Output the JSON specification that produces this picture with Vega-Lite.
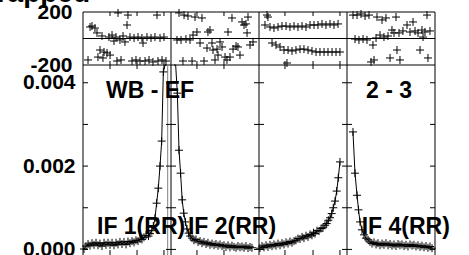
{
"$schema":"https://vega.github.io/schema/vega-lite/v6.json",
"width":352,"height":243,
"autosize":{"type":"none"},
"padding":{"left":83,"top":12,"right":34,"bottom":0},
"background":"white",
"config":{"view":{"stroke":null},"font":"Liberation Sans"},
"datasets":{
"div":[{"d":0},{"d":1},{"d":2},{"d":3},{"d":4}],
"hl":[{"h":200},{"h":0},{"h":-200}],
"xt":[{"t":0.307},{"t":0.614},{"t":0.92},{"t":1.295},{"t":1.602},{"t":2.295},{"t":2.614},{"t":2.92}],
"yl":[{"lv":0},{"lv":0.001},{"lv":0.002},{"lv":0.003},{"lv":0.004}],
"amp":[
{"i":1,"x":0.011,"a":0.00001},{"i":1,"x":0.034,"a":0.00008},{"i":1,"x":0.057,"a":0.00013},{"i":1,"x":0.080,"a":0.00009},{"i":1,"x":0.102,"a":0.00015},{"i":1,"x":0.125,"a":0.00011},{"i":1,"x":0.148,"a":0.00016},{"i":1,"x":0.170,"a":0.00010},{"i":1,"x":0.193,"a":0.00014},{"i":1,"x":0.216,"a":0.00008},{"i":1,"x":0.239,"a":0.00016},{"i":1,"x":0.261,"a":0.00011},{"i":1,"x":0.284,"a":0.00016},{"i":1,"x":0.307,"a":0.00011},{"i":1,"x":0.330,"a":0.00016},{"i":1,"x":0.352,"a":0.00010},{"i":1,"x":0.375,"a":0.00016},{"i":1,"x":0.398,"a":0.00012},{"i":1,"x":0.420,"a":0.00018},{"i":1,"x":0.443,"a":0.00013},{"i":1,"x":0.466,"a":0.00018},{"i":1,"x":0.489,"a":0.00012},{"i":1,"x":0.511,"a":0.00019},{"i":1,"x":0.534,"a":0.00015},{"i":1,"x":0.557,"a":0.00020},{"i":1,"x":0.580,"a":0.00017},{"i":1,"x":0.602,"a":0.00022},{"i":1,"x":0.625,"a":0.00020},{"i":1,"x":0.648,"a":0.00025},{"i":1,"x":0.670,"a":0.00024},{"i":1,"x":0.693,"a":0.00029},{"i":1,"x":0.716,"a":0.00034},{"i":1,"x":0.744,"a":0.00032},{"i":1,"x":0.761,"a":0.00038},{"i":1,"x":0.781,"a":0.00045},{"i":1,"x":0.799,"a":0.00056},{"i":1,"x":0.818,"a":0.00075},{"i":1,"x":0.837,"a":0.00111},{"i":1,"x":0.856,"a":0.00147},{"i":1,"x":0.875,"a":0.00200},{"i":1,"x":0.894,"a":0.00260},{"i":1,"x":0.913,"a":0.00426},{"i":1,"x":0.932,"a":0.0075},{"i":1,"x":0.951,"a":0.012},
{"i":2,"x":1.034,"a":0.009},{"i":2,"x":1.053,"a":0.0055},{"i":2,"x":1.072,"a":0.00375},{"i":2,"x":1.091,"a":0.00238},{"i":2,"x":1.109,"a":0.00183},{"i":2,"x":1.127,"a":0.00119},{"i":2,"x":1.145,"a":0.00087},{"i":2,"x":1.164,"a":0.00066},{"i":2,"x":1.182,"a":0.00049},{"i":2,"x":1.200,"a":0.00039},{"i":2,"x":1.218,"a":0.00032},{"i":2,"x":1.239,"a":0.00027},{"i":2,"x":1.261,"a":0.00022},{"i":2,"x":1.284,"a":0.00024},{"i":2,"x":1.307,"a":0.00018},{"i":2,"x":1.330,"a":0.00020},{"i":2,"x":1.352,"a":0.00015},{"i":2,"x":1.375,"a":0.00018},{"i":2,"x":1.398,"a":0.00013},{"i":2,"x":1.420,"a":0.00016},{"i":2,"x":1.443,"a":0.00011},{"i":2,"x":1.466,"a":0.00014},{"i":2,"x":1.489,"a":0.00010},{"i":2,"x":1.511,"a":0.00013},{"i":2,"x":1.534,"a":0.00009},{"i":2,"x":1.557,"a":0.00012},{"i":2,"x":1.580,"a":0.00008},{"i":2,"x":1.602,"a":0.00010},{"i":2,"x":1.625,"a":0.00006},{"i":2,"x":1.648,"a":0.00010},{"i":2,"x":1.670,"a":0.00005},{"i":2,"x":1.693,"a":0.00009},{"i":2,"x":1.716,"a":0.00006},{"i":2,"x":1.739,"a":0.00004},{"i":2,"x":1.761,"a":0.00008},{"i":2,"x":1.784,"a":0.00005},{"i":2,"x":1.807,"a":0.00007},{"i":2,"x":1.830,"a":0.00004},{"i":2,"x":1.852,"a":0.00008},{"i":2,"x":1.875,"a":0.00003},{"i":2,"x":1.898,"a":0.00006},{"i":2,"x":1.920,"a":0.00004},
{"i":3,"x":2.011,"a":0.00003},{"i":3,"x":2.034,"a":0.00008},{"i":3,"x":2.057,"a":0.00005},{"i":3,"x":2.080,"a":0.00010},{"i":3,"x":2.102,"a":0.00006},{"i":3,"x":2.125,"a":0.00011},{"i":3,"x":2.148,"a":0.00008},{"i":3,"x":2.170,"a":0.00012},{"i":3,"x":2.193,"a":0.00009},{"i":3,"x":2.216,"a":0.00014},{"i":3,"x":2.239,"a":0.00010},{"i":3,"x":2.261,"a":0.00015},{"i":3,"x":2.284,"a":0.00012},{"i":3,"x":2.307,"a":0.00017},{"i":3,"x":2.330,"a":0.00014},{"i":3,"x":2.352,"a":0.00019},{"i":3,"x":2.375,"a":0.00016},{"i":3,"x":2.398,"a":0.00020},{"i":3,"x":2.420,"a":0.00022},{"i":3,"x":2.443,"a":0.00026},{"i":3,"x":2.466,"a":0.00025},{"i":3,"x":2.489,"a":0.00030},{"i":3,"x":2.511,"a":0.00027},{"i":3,"x":2.534,"a":0.00033},{"i":3,"x":2.557,"a":0.00030},{"i":3,"x":2.580,"a":0.00036},{"i":3,"x":2.602,"a":0.00034},{"i":3,"x":2.619,"a":0.00040},{"i":3,"x":2.636,"a":0.00038},{"i":3,"x":2.659,"a":0.00045},{"i":3,"x":2.682,"a":0.00044},{"i":3,"x":2.705,"a":0.00050},{"i":3,"x":2.727,"a":0.00052},{"i":3,"x":2.750,"a":0.00058},{"i":3,"x":2.769,"a":0.00062},{"i":3,"x":2.788,"a":0.00070},{"i":3,"x":2.807,"a":0.00076},{"i":3,"x":2.826,"a":0.00086},{"i":3,"x":2.844,"a":0.00100},{"i":3,"x":2.864,"a":0.00116},{"i":3,"x":2.883,"a":0.00140},{"i":3,"x":2.901,"a":0.00172},{"i":3,"x":2.920,"a":0.00210},
{"i":4,"x":3.068,"a":0.00282},{"i":4,"x":3.091,"a":0.00183},{"i":4,"x":3.114,"a":0.00130},{"i":4,"x":3.131,"a":0.00095},{"i":4,"x":3.148,"a":0.00066},{"i":4,"x":3.170,"a":0.00047},{"i":4,"x":3.193,"a":0.00035},{"i":4,"x":3.216,"a":0.00027},{"i":4,"x":3.239,"a":0.00023},{"i":4,"x":3.261,"a":0.00018},{"i":4,"x":3.284,"a":0.00014},{"i":4,"x":3.307,"a":0.00017},{"i":4,"x":3.330,"a":0.00012},{"i":4,"x":3.352,"a":0.00015},{"i":4,"x":3.375,"a":0.00010},{"i":4,"x":3.398,"a":0.00014},{"i":4,"x":3.420,"a":0.00011},{"i":4,"x":3.443,"a":0.00015},{"i":4,"x":3.466,"a":0.00010},{"i":4,"x":3.489,"a":0.00013},{"i":4,"x":3.511,"a":0.00009},{"i":4,"x":3.534,"a":0.00012},{"i":4,"x":3.557,"a":0.00008},{"i":4,"x":3.580,"a":0.00013},{"i":4,"x":3.602,"a":0.00010},{"i":4,"x":3.625,"a":0.00012},{"i":4,"x":3.648,"a":0.00008},{"i":4,"x":3.670,"a":0.00011},{"i":4,"x":3.693,"a":0.00007},{"i":4,"x":3.716,"a":0.00012},{"i":4,"x":3.739,"a":0.00009},{"i":4,"x":3.761,"a":0.00011},{"i":4,"x":3.784,"a":0.00007},{"i":4,"x":3.807,"a":0.00010},{"i":4,"x":3.830,"a":0.00006},{"i":4,"x":3.852,"a":0.00009},{"i":4,"x":3.875,"a":0.00005},{"i":4,"x":3.898,"a":0.00008},{"i":4,"x":3.920,"a":0.00004},{"i":4,"x":3.943,"a":0.00007},{"i":4,"x":3.966,"a":0.00003}
],
"ph":[
{"x":0.057,"p":-162},{"x":0.080,"p":87},{"x":0.102,"p":94},{"x":0.136,"p":79},{"x":0.159,"p":42},{"x":0.170,"p":-140},{"x":0.193,"p":-87},{"x":0.216,"p":19},{"x":0.227,"p":-147},{"x":0.239,"p":-102},{"x":0.273,"p":-109},{"x":0.295,"p":11},{"x":0.307,"p":-125},{"x":0.330,"p":26},{"x":0.352,"p":-19},{"x":0.375,"p":11},{"x":0.386,"p":-170},{"x":0.398,"p":193},{"x":0.420,"p":-11},{"x":0.432,"p":-162},{"x":0.455,"p":19},{"x":0.477,"p":-26},{"x":0.500,"p":102},{"x":0.511,"p":177},{"x":0.534,"p":11},{"x":0.557,"p":-170},{"x":0.580,"p":4},{"x":0.602,"p":-162},{"x":0.625,"p":11},{"x":0.648,"p":-170},{"x":0.670,"p":4},{"x":0.682,"p":-34},{"x":0.705,"p":-170},{"x":0.727,"p":11},{"x":0.750,"p":-162},{"x":0.773,"p":4},{"x":0.795,"p":-177},{"x":0.818,"p":11},{"x":0.841,"p":177},{"x":0.852,"p":-170},{"x":0.875,"p":4},{"x":0.898,"p":-162},{"x":0.920,"p":11},{"x":0.943,"p":-170},
{"x":1.068,"p":-11},{"x":1.091,"p":193},{"x":1.114,"p":-11},{"x":1.136,"p":-170},{"x":1.148,"p":177},{"x":1.170,"p":-4},{"x":1.193,"p":170},{"x":1.216,"p":-11},{"x":1.239,"p":-170},{"x":1.250,"p":26},{"x":1.273,"p":162},{"x":1.295,"p":49},{"x":1.330,"p":-34},{"x":1.352,"p":155},{"x":1.375,"p":-170},{"x":1.409,"p":-72},{"x":1.420,"p":49},{"x":1.443,"p":64},{"x":1.466,"p":-34},{"x":1.477,"p":-87},{"x":1.500,"p":-162},{"x":1.523,"p":-80},{"x":1.534,"p":-125},{"x":1.557,"p":-26},{"x":1.580,"p":-64},{"x":1.614,"p":-140},{"x":1.636,"p":-162},{"x":1.648,"p":49},{"x":1.670,"p":-140},{"x":1.693,"p":155},{"x":1.705,"p":-80},{"x":1.739,"p":-57},{"x":1.761,"p":-64},{"x":1.784,"p":-125},{"x":1.807,"p":125},{"x":1.830,"p":102},{"x":1.852,"p":110},{"x":1.864,"p":42},{"x":1.875,"p":162},{"x":1.898,"p":-49},{"x":1.932,"p":-26},
{"x":2.068,"p":102},{"x":2.091,"p":177},{"x":2.102,"p":162},{"x":2.125,"p":87},{"x":2.148,"p":-34},{"x":2.170,"p":79},{"x":2.193,"p":-49},{"x":2.216,"p":87},{"x":2.239,"p":-64},{"x":2.261,"p":94},{"x":2.284,"p":-87},{"x":2.307,"p":94},{"x":2.318,"p":-185},{"x":2.330,"p":-87},{"x":2.352,"p":87},{"x":2.375,"p":-94},{"x":2.398,"p":94},{"x":2.420,"p":-87},{"x":2.443,"p":87},{"x":2.466,"p":-80},{"x":2.489,"p":94},{"x":2.511,"p":-80},{"x":2.534,"p":87},{"x":2.557,"p":-87},{"x":2.580,"p":102},{"x":2.602,"p":-94},{"x":2.625,"p":102},{"x":2.648,"p":-102},{"x":2.670,"p":102},{"x":2.693,"p":-102},{"x":2.716,"p":110},{"x":2.739,"p":-102},{"x":2.761,"p":102},{"x":2.784,"p":-102},{"x":2.807,"p":110},{"x":2.830,"p":-102},{"x":2.852,"p":102},{"x":2.875,"p":-102},{"x":2.898,"p":110},{"x":2.920,"p":-102},
{"x":3.068,"p":177},{"x":3.091,"p":-4},{"x":3.114,"p":177},{"x":3.136,"p":-11},{"x":3.159,"p":185},{"x":3.182,"p":-4},{"x":3.205,"p":170},{"x":3.227,"p":-11},{"x":3.250,"p":177},{"x":3.273,"p":-177},{"x":3.295,"p":-49},{"x":3.307,"p":-162},{"x":3.330,"p":4},{"x":3.341,"p":162},{"x":3.375,"p":26},{"x":3.398,"p":140},{"x":3.420,"p":11},{"x":3.443,"p":155},{"x":3.466,"p":19},{"x":3.489,"p":-147},{"x":3.511,"p":64},{"x":3.534,"p":42},{"x":3.557,"p":162},{"x":3.568,"p":-87},{"x":3.591,"p":42},{"x":3.602,"p":-162},{"x":3.636,"p":57},{"x":3.682,"p":102},{"x":3.716,"p":49},{"x":3.750,"p":125},{"x":3.773,"p":57},{"x":3.807,"p":42},{"x":3.830,"p":-87},{"x":3.852,"p":64},{"x":3.864,"p":11},{"x":3.886,"p":49},{"x":3.909,"p":177},{"x":3.920,"p":-147},{"x":3.943,"p":57}
]
},
"layer":[
{"layer":[
 {"data":{"name":"div"},"mark":{"type":"rule","color":"black","strokeWidth":1},
  "encoding":{"x":{"field":"d","type":"quantitative","scale":{"domain":[0,4],"nice":false,"zero":false},"axis":null}}},
 {"data":{"name":"hl"},"mark":{"type":"rule","color":"black","strokeWidth":1},
  "encoding":{"y":{"field":"h","type":"quantitative","title":null,"scale":{"domain":[-200,200],"range":[53,0],"nice":false,"zero":false},"axis":{"orient":"left","values":[-200,200],"labelExpr":"replace(datum.label, '\u2212', '-')","ticks":false,"domain":false,"grid":false,"labelFont":"Liberation Sans","labelFontWeight":"bold","labelFontSize":21,"labelColor":"black","labelPadding":11,"labelOverlap":false,"labelBound":false}}}},
 {"data":{"name":"xt"},"mark":{"type":"tick","orient":"vertical","size":8,"thickness":1,"color":"black","opacity":1,"clip":true},
  "encoding":{"x":{"field":"t","type":"quantitative","scale":{"domain":[0,4],"nice":false,"zero":false},"axis":null},"y":{"datum":200,"type":"quantitative","title":null}}},
 {"data":{"name":"xt"},"mark":{"type":"tick","orient":"vertical","size":8,"thickness":1,"color":"black","opacity":1},
  "encoding":{"x":{"field":"t","type":"quantitative","scale":{"domain":[0,4],"nice":false,"zero":false},"axis":null},"y":{"datum":-200,"type":"quantitative","title":null}}},
 {"data":{"name":"ph"},"mark":{"type":"point","shape":"M-1,0L1,0M0,-1L0,1","size":64,"filled":false,"stroke":"black","strokeWidth":1,"opacity":1},
  "encoding":{"x":{"field":"x","type":"quantitative","scale":{"domain":[0,4],"nice":false,"zero":false},"axis":null},"y":{"field":"p","type":"quantitative","title":null}}},
 {"data":{"values":[{"t":"Wrapped"}]},"mark":{"type":"text","font":"Liberation Sans","fontWeight":"bold","fontSize":28,"align":"right","baseline":"alphabetic","color":"black"},
  "encoding":{"x":{"datum":0.08,"type":"quantitative","scale":{"domain":[0,4],"nice":false,"zero":false},"axis":null},"y":{"datum":276,"type":"quantitative","title":null},"text":{"field":"t"}}}
]},
{"layer":[
 {"data":{"values":[{}]},"mark":{"type":"rule","color":"#808080","strokeWidth":1},
  "encoding":{"x":{"datum":0.9625,"type":"quantitative","scale":{"domain":[0,4],"nice":false,"zero":false},"axis":null},"y":{"datum":0.004426,"type":"quantitative","title":null,"scale":{"domain":[-0.000134,0.004426],"range":[243,53],"nice":false,"zero":false,"clamp":true},"axis":{"orient":"left","values":[0,0.002,0.004],"format":".3f","ticks":false,"domain":false,"grid":false,"labelFont":"Liberation Sans","labelFontWeight":"bold","labelFontSize":21,"labelColor":"black","labelPadding":8,"labelOverlap":false,"labelBound":false}},"y2":{"datum":-0.000134}}},
 {"data":{"name":"yl"},"mark":{"type":"tick","orient":"horizontal","size":10,"thickness":1,"color":"black","opacity":1,"clip":true},
  "encoding":{"x":{"datum":0,"type":"quantitative"},"y":{"field":"lv","type":"quantitative","title":null}}},
 {"data":{"name":"yl"},"mark":{"type":"tick","orient":"horizontal","size":10,"thickness":1,"color":"black","opacity":1,"clip":true},
  "encoding":{"x":{"datum":1,"type":"quantitative"},"y":{"field":"lv","type":"quantitative","title":null}}},
 {"data":{"name":"yl"},"mark":{"type":"tick","orient":"horizontal","size":10,"thickness":1,"color":"black","opacity":1,"clip":true},
  "encoding":{"x":{"datum":2,"type":"quantitative"},"y":{"field":"lv","type":"quantitative","title":null}}},
 {"data":{"name":"yl"},"mark":{"type":"tick","orient":"horizontal","size":10,"thickness":1,"color":"black","opacity":1,"clip":true},
  "encoding":{"x":{"datum":3,"type":"quantitative"},"y":{"field":"lv","type":"quantitative","title":null}}},
 {"data":{"name":"yl"},"mark":{"type":"tick","orient":"horizontal","size":10,"thickness":1,"color":"black","opacity":1,"clip":true},
  "encoding":{"x":{"datum":4,"type":"quantitative"},"y":{"field":"lv","type":"quantitative","title":null}}},
 {"data":{"name":"xt"},"mark":{"type":"tick","orient":"vertical","size":10,"thickness":1,"color":"black","opacity":1,"clip":true},
  "encoding":{"x":{"field":"t","type":"quantitative"},"y":{"datum":-0.000134,"type":"quantitative","title":null}}},
 {"data":{"name":"amp"},"mark":{"type":"line","color":"black","strokeWidth":1},
  "encoding":{"x":{"field":"x","type":"quantitative"},"y":{"field":"a","type":"quantitative","title":null},"detail":{"field":"i","type":"nominal"}}},
 {"data":{"name":"amp"},"transform":[{"filter":"datum.a <= 0.0044"}],"mark":{"type":"point","shape":"M-1,0L1,0M0,-1L0,1","size":64,"filled":false,"stroke":"black","strokeWidth":1,"opacity":1},
  "encoding":{"x":{"field":"x","type":"quantitative"},"y":{"field":"a","type":"quantitative","title":null}}},
 {"data":{"values":[{"t":"WB - EF"}]},"mark":{"type":"text","font":"Liberation Sans","fontWeight":"bold","fontSize":23,"align":"left","baseline":"alphabetic","color":"black"},
  "encoding":{"x":{"datum":0.261,"type":"quantitative"},"y":{"datum":0.00363,"type":"quantitative","title":null},"text":{"field":"t"}}},
 {"data":{"values":[{"t":"2 - 3"}]},"mark":{"type":"text","font":"Liberation Sans","fontWeight":"bold","fontSize":23,"align":"left","baseline":"alphabetic","color":"black"},
  "encoding":{"x":{"datum":3.216,"type":"quantitative"},"y":{"datum":0.00363,"type":"quantitative","title":null},"text":{"field":"t"}}},
 {"data":{"values":[{"t":"IF 1(RR)"}]},"mark":{"type":"text","font":"Liberation Sans","fontWeight":"bold","fontSize":23,"align":"left","baseline":"alphabetic","color":"black"},
  "encoding":{"x":{"datum":0.159,"type":"quantitative"},"y":{"datum":0.00037,"type":"quantitative","title":null},"text":{"field":"t"}}},
 {"data":{"values":[{"t":"IF 2(RR)"}]},"mark":{"type":"text","font":"Liberation Sans","fontWeight":"bold","fontSize":23,"align":"left","baseline":"alphabetic","color":"black"},
  "encoding":{"x":{"datum":1.193,"type":"quantitative"},"y":{"datum":0.00037,"type":"quantitative","title":null},"text":{"field":"t"}}},
 {"data":{"values":[{"t":"IF 4(RR)"}]},"mark":{"type":"text","font":"Liberation Sans","fontWeight":"bold","fontSize":23,"align":"left","baseline":"alphabetic","color":"black"},
  "encoding":{"x":{"datum":3.167,"type":"quantitative"},"y":{"datum":0.00037,"type":"quantitative","title":null},"text":{"field":"t"}}}
]}
],
"resolve":{"scale":{"y":"independent"},"axis":{"y":"independent"}}
}
